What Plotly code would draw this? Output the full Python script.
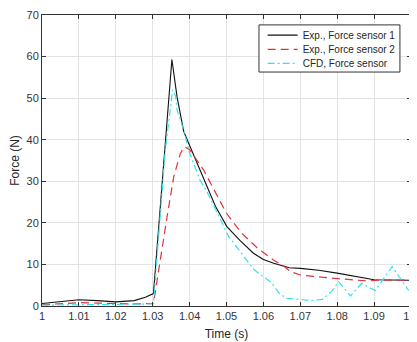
import plotly.graph_objects as go

# ---- data ----
t_s1 = [1.000, 1.005, 1.010, 1.015, 1.020, 1.025, 1.028, 1.0302, 1.0352, 1.0366,
        1.0384, 1.0400, 1.0443, 1.0470, 1.0501, 1.0537, 1.0573, 1.0600, 1.0628,
        1.0646, 1.0670, 1.0700, 1.0750, 1.0800, 1.0850, 1.0900, 1.1000]
f_s1 = [0.6, 1.1, 1.5, 1.3, 1.0, 1.3, 2.1, 3.0, 59.3, 50.3,
        42.0, 38.6, 29.8, 24.0, 19.1, 15.7, 12.7, 11.2, 10.3,
        9.9, 9.2, 9.05, 8.6, 7.9, 7.1, 6.3, 6.2]

t_s2 = [1.000, 1.005, 1.010, 1.015, 1.020, 1.025, 1.0302, 1.0320, 1.0339, 1.0357,
        1.0375, 1.0386, 1.0400, 1.0438, 1.0470, 1.0500, 1.0540, 1.0583, 1.0628,
        1.0655, 1.0673, 1.0700, 1.0763, 1.0836, 1.0881, 1.0917, 1.1000]
f_s2 = [0.3, 0.5, 0.8, 0.7, 0.6, 0.5, 0.6, 11.1, 21.5, 31.1,
        36.7, 38.3, 37.6, 32.7, 27.5, 22.3, 17.6, 14.0, 11.0,
        9.6, 8.3, 7.45, 6.9, 6.3, 6.0, 6.25, 6.2]

t_cfd = [1.000, 1.010, 1.020, 1.0302, 1.0334, 1.0354, 1.0362, 1.0366, 1.0384,
         1.0400, 1.0428, 1.0447, 1.0506, 1.0537, 1.0573, 1.0592, 1.0620, 1.0645,
         1.0664, 1.0700, 1.0727, 1.0760, 1.0785, 1.0804, 1.0836, 1.0867, 1.0903,
         1.0949, 1.0994]
f_cfd = [0.2, 0.3, 0.3, 0.5, 37.5, 52.0, 50.5, 47.1, 42.3,
         36.8, 30.3, 27.5, 16.7, 13.1, 8.9, 7.5, 5.8, 2.8,
         1.85, 1.6, 1.3, 1.6, 3.5, 5.85, 2.4, 5.45, 3.7,
         9.5, 3.7]

series_names = ["Exp., Force sensor 1", "Exp., Force sensor 2", "CFD, Force sensor"]

x_ticks = [1.00, 1.01, 1.02, 1.03, 1.04, 1.05, 1.06, 1.07, 1.08, 1.09, 1.10]
x_tick_labels = ["1", "1.01", "1.02", "1.03", "1.04", "1.05", "1.06", "1.07", "1.08", "1.09", "1.1"]
y_ticks = [0, 10, 20, 30, 40, 50, 60, 70]

FONT = "Liberation Sans, Arial, sans-serif"

# ---- figure ----
fig = go.Figure()
fig.add_trace(go.Scatter(x=t_s1, y=f_s1, mode="lines", name=series_names[0], legend="legend",
                         line=dict(color="#111111", width=1.1)))
fig.add_trace(go.Scatter(x=t_s2, y=f_s2, mode="lines", name=series_names[1], legend="legend2",
                         line=dict(color="#e2333b", width=1.2, dash="8px,5px")))
fig.add_trace(go.Scatter(x=t_cfd, y=f_cfd, mode="lines", name=series_names[2], legend="legend3",
                         line=dict(color="#35e3ec", width=1.2, dash="7px,3px,2px,3px")))

axis_common = dict(
    showline=True, linecolor="#333333", linewidth=1, mirror="ticks",
    ticks="inside", ticklen=4, tickcolor="#333333",
    showgrid=True, gridcolor="#e3e3e3", gridwidth=1, zeroline=False,
    tickfont=dict(family=FONT, size=11, color="#333333"),
    ticklabeloverflow="allow",
)

fig.update_xaxes(range=[0.99999, 1.10001], tickvals=x_ticks, ticktext=x_tick_labels,
                 title=dict(text="Time (s)", standoff=8,
                            font=dict(family=FONT, size=12, color="#262626")),
                 **axis_common)
fig.update_yaxes(range=[0, 70], tickvals=y_ticks,
                 title=dict(text="Force (N)", standoff=6,
                            font=dict(family=FONT, size=12, color="#262626")),
                 **axis_common)

leg_common = dict(x=0.598, xanchor="left", yanchor="middle",
                  bgcolor="rgba(0,0,0,0)", borderwidth=0,
                  font=dict(family=FONT, size=10, color="#262626"),
                  itemwidth=30, tracegroupgap=0)

# the page body adds an 8px offset, so the figure is sized to the remaining window
fig.update_layout(
    width=409, height=334,
    margin=dict(l=34, r=6, t=7, b=36, autoexpand=False),
    paper_bgcolor="white", plot_bgcolor="white",
    showlegend=True,
    legend=dict(y=0.931, **leg_common),
    legend2=dict(y=0.882, **leg_common),
    legend3=dict(y=0.834, **leg_common),
    shapes=[dict(type="rect", xref="paper", yref="paper",
                 x0=0.588, x1=0.970, y0=0.804, y1=0.966,
                 line=dict(color="#333333", width=1), fillcolor="white", layer="above")],
)

fig.write_html("out.html")
